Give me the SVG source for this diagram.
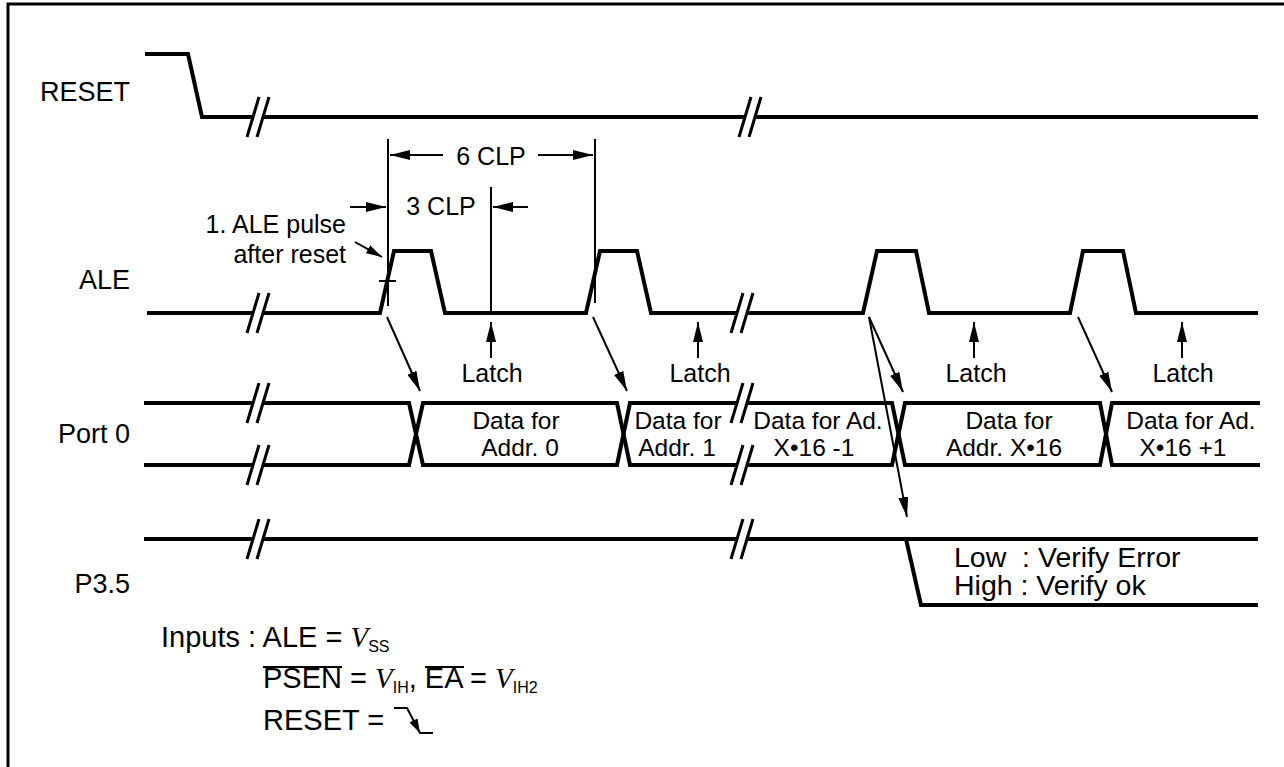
<svg xmlns="http://www.w3.org/2000/svg" width="1284" height="767" viewBox="0 0 1284 767">
<style>
text{font-family:"Liberation Sans",Arial,sans-serif;fill:#000}
.lbl{font-size:27px;text-anchor:end}
.ann{font-size:25px}
.dat{font-size:24.5px;text-anchor:middle}
.mid{text-anchor:middle}
.inp{font-size:29px}
.vi{font-family:"Liberation Serif","Times New Roman",serif;font-style:italic;font-size:29px}
.sub{font-size:16px}
.sig{fill:none;stroke:#000;stroke-width:4;stroke-linejoin:miter}
.thin{fill:none;stroke:#000;stroke-width:2}
.brk line{stroke:#000;stroke-width:3}
</style>
<defs>
<marker id="ah" markerUnits="userSpaceOnUse" markerWidth="20" markerHeight="10" refX="20" refY="5" orient="auto"><path d="M0,0 L20,5 L0,10 z" fill="#000"/></marker>
<marker id="ahs" markerUnits="userSpaceOnUse" markerWidth="16" markerHeight="9" refX="16" refY="4.5" orient="auto"><path d="M0,0 L16,4.5 L0,9 z" fill="#000"/></marker>
<g id="brk" class="brk"><rect x="-4.5" y="-3" width="9" height="6" fill="#fff"/><line x1="-11" y1="20" x2="1" y2="-20"/><line x1="-1" y1="20" x2="11" y2="-20"/></g>
</defs>
<rect width="1284" height="767" fill="#fff"/>
<g id="frame"><path d="M8,767 V4 H1284" fill="none" stroke="#000" stroke-width="3"/></g>

<g id="sig-reset">
<text class="lbl" x="130" y="101">RESET</text>
<path class="sig" d="M145,54 H188 L202,117 H1258"/>
<use href="#brk" x="258" y="117"/>
<use href="#brk" x="750" y="117"/>
</g>

<g id="sig-ale">
<text class="lbl" x="130" y="289">ALE</text>
<path class="sig" d="M147,313 H380 L394,251 H431 L445,313 H586 L600,251 H637 L651,313 H863 L877,251 H916 L929,313 H1070 L1083,251 H1123 L1136,313 H1258"/>
<use href="#brk" x="258" y="313"/>
<use href="#brk" x="742" y="313"/>
</g>

<g id="sig-port0">
<text class="lbl" x="130" y="443">Port 0</text>
<path class="sig" d="M144,403 H409 L423,465 H617 L630,403 H892 L905,465 H1100 L1112,403 H1260"/>
<path class="sig" d="M144,465 H409 L423,403 H617 L630,465 H892 L905,403 H1100 L1112,465 H1260"/>
<use href="#brk" x="258" y="403"/>
<use href="#brk" x="258" y="465"/>
<use href="#brk" x="742" y="403"/>
<use href="#brk" x="742" y="465"/>
<text class="dat" x="516" y="429">Data for</text>
<text class="dat" x="520" y="456">Addr. 0</text>
<text class="dat" x="678" y="429">Data for</text>
<text class="dat" x="677" y="456">Addr. 1</text>
<text class="dat" x="818" y="429">Data for Ad.</text>
<text class="dat" x="814" y="456">X•16 -1</text>
<text class="dat" x="1009" y="429">Data for</text>
<text class="dat" x="1004" y="456">Addr. X•16</text>
<text class="dat" x="1191" y="429">Data for Ad.</text>
<text class="dat" x="1183" y="456">X•16 +1</text>
</g>

<g id="sig-p35">
<text class="lbl" x="130" y="593">P3.5</text>
<path class="sig" d="M144,539 H1258"/>
<path class="sig" d="M906,539 L921,605 H1258"/>
<use href="#brk" x="258" y="539"/>
<use href="#brk" x="742" y="539"/>
<text x="954" y="567" xml:space="preserve" style="font-size:28.5px">Low  : Verify Error</text>
<text x="954" y="595" style="font-size:28.5px">High : Verify ok</text>
</g>

<g id="timing-annotations">
<line class="thin" x1="388" y1="139" x2="388" y2="306"/>
<line class="thin" x1="595" y1="139" x2="595" y2="303"/>
<line class="thin" x1="491" y1="187" x2="491" y2="313"/>
<text class="ann mid" x="491" y="165">6 CLP</text>
<text class="ann mid" x="441" y="215">3 CLP</text>
<text class="ann" x="346" y="233" text-anchor="end">1. ALE pulse</text>
<text class="ann" x="346" y="263" text-anchor="end">after reset</text>
<line class="thin" x1="379" y1="281" x2="396" y2="281"/>
<text class="ann mid" x="492" y="382">Latch</text>
<text class="ann mid" x="700" y="382">Latch</text>
<text class="ann mid" x="976" y="382">Latch</text>
<text class="ann mid" x="1183" y="382">Latch</text>
</g>

<g id="connectors">
<line class="thin" x1="443" y1="155" x2="390" y2="155" marker-end="url(#ah)"/>
<line class="thin" x1="538" y1="155" x2="593" y2="155" marker-end="url(#ah)"/>
<line class="thin" x1="350" y1="207" x2="386" y2="207" marker-end="url(#ah)"/>
<line class="thin" x1="528" y1="207" x2="493" y2="207" marker-end="url(#ah)"/>
<line class="thin" x1="355" y1="242" x2="382" y2="257" marker-end="url(#ahs)"/>
<line class="thin" x1="491" y1="358" x2="491" y2="322" marker-end="url(#ah)"/>
<line class="thin" x1="698" y1="358" x2="698" y2="322" marker-end="url(#ah)"/>
<line class="thin" x1="974" y1="358" x2="974" y2="322" marker-end="url(#ah)"/>
<line class="thin" x1="1182" y1="358" x2="1182" y2="322" marker-end="url(#ah)"/>
<line class="thin" x1="387" y1="317" x2="420" y2="391" marker-end="url(#ah)"/>
<line class="thin" x1="593" y1="317" x2="627" y2="391" marker-end="url(#ah)"/>
<line class="thin" x1="869" y1="317" x2="903" y2="392" marker-end="url(#ah)"/>
<line class="thin" x1="869" y1="317" x2="907" y2="517" marker-end="url(#ah)"/>
<line class="thin" x1="1078" y1="317" x2="1112" y2="392" marker-end="url(#ah)"/>
</g>

<g id="inputs">
<text class="inp" x="161" y="647" xml:space="preserve">Inputs : ALE = <tspan class="vi">V</tspan><tspan class="sub" dy="5">SS</tspan></text>
<text class="inp" x="263" y="688" xml:space="preserve">PSEN = <tspan class="vi">V</tspan><tspan class="sub" dy="5">IH</tspan><tspan dy="-5">, EA = </tspan><tspan class="vi">V</tspan><tspan class="sub" dy="5">IH2</tspan></text>
<line class="thin" x1="263" y1="667" x2="342" y2="667"/>
<line class="thin" x1="425" y1="667" x2="464" y2="667"/>
<text class="inp" x="263" y="730">RESET =</text>
<path class="thin" d="M394,708 H407 L420,733 H433"/>
<path d="M420,733 L409.5,722.6 L417.5,718.4 z" fill="#000"/>
</g>
</svg>
